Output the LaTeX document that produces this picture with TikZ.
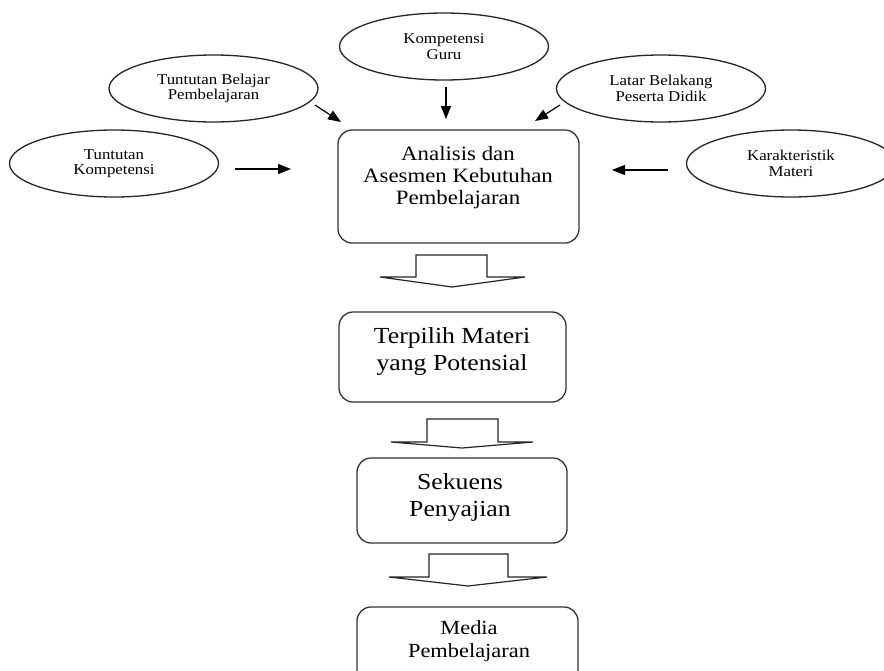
\documentclass[tikz,border=0pt]{standalone}
\usepackage{fontspec}
\setmainfont{Liberation Serif}
\newfontfamily\diafont[FakeStretch=1.12]{Liberation Serif}
\usetikzlibrary{shapes.geometric,arrows.meta}
\begin{document}
\begin{tikzpicture}[x=1pt,y=-1pt,
  oval/.style={ellipse, draw=black!85, line width=1.3pt, minimum width=209pt, minimum height=67pt, inner sep=0pt,
               align=center, font=\diafont\fontsize{15}{15.5}\selectfont},
  box/.style={draw=black!80, line width=1.3pt, rounded corners=14pt, inner sep=0pt},
  bigtext/.style={align=center, inner sep=0pt, font=\diafont\fontsize{23}{27}\selectfont},
  midtext/.style={align=center, inner sep=0pt, font=\diafont\fontsize{20.4}{22}\selectfont},
  medtext/.style={align=center, inner sep=0pt, font=\diafont\fontsize{20}{23}\selectfont},
  arr/.style={line width=1.2pt, -{Triangle[length=13pt,width=10pt]}},
  blk/.style={draw=black!85, line width=1.2pt, fill=white, line join=miter}]
\clip (0,0) rectangle (884,670);
\fill[white] (0,0) rectangle (884,670);

% ovals
\node[oval] (guru) at (444,46.5) {Kompetensi\\Guru};
\node[oval] (tbp) at (213.5,88.5) {Tuntutan Belajar\\Pembelajaran};
\node[oval] (lbp) at (661,88.5) {Latar Belakang\\Peserta Didik};
\node[oval] (tk) at (114,163.5) {Tuntutan\\Kompetensi};
\node[oval] (km) at (791,163.5) {Karakteristik\\Materi};

% boxes
\node[box, minimum width=241pt, minimum height=113pt] (b1) at (458.5,186.5) {};
\node[midtext] (t1) at (458,178) {Analisis dan\\Asesmen Kebutuhan\\Pembelajaran};
\node[box, minimum width=227pt, minimum height=90pt] (b2) at (452.5,357) {};
\node[bigtext] (t2) at (452,351) {Terpilih Materi\\yang Potensial};
\node[box, minimum width=210pt, minimum height=85pt] (b3) at (462,500.5) {};
\node[bigtext] (t3) at (460,497) {Sekuens\\Penyajian};
\node[box, minimum width=221pt, minimum height=110pt] (b4) at (467.5,662) {};
\node[medtext] (t4) at (469,641) {Media\\Pembelajaran};

% input arrows (free ends)
\coordinate (g1) at (446,87);   \coordinate (g2) at (446,119);
\coordinate (p1) at (315,105);  \coordinate (p2) at (341,122);
\coordinate (l1) at (560,105);  \coordinate (l2) at (535,121);
\coordinate (k1) at (235,169);  \coordinate (k2) at (291,169);
\coordinate (m1) at (668,170);  \coordinate (m2) at (612,170);
\draw[arr] (g1) -- (g2);
\draw[arr] (p1) -- (p2);
\draw[arr] (l1) -- (l2);
\draw[arr] (k1) -- (k2);
\draw[arr] (m1) -- (m2);

% block arrows
\draw[blk] (416,255) -- (487,255) -- (487,277) -- (525,277) -- (452,287) -- (380,277) -- (416,277) -- cycle;
\draw[blk] (427,419) -- (498,419) -- (498,442) -- (533,442) -- (462,448) -- (391,442) -- (427,442) -- cycle;
\draw[blk] (429,554) -- (508,554) -- (508,577) -- (547,577) -- (468,586) -- (389,577) -- (429,577) -- cycle;
\end{tikzpicture}
\end{document}
